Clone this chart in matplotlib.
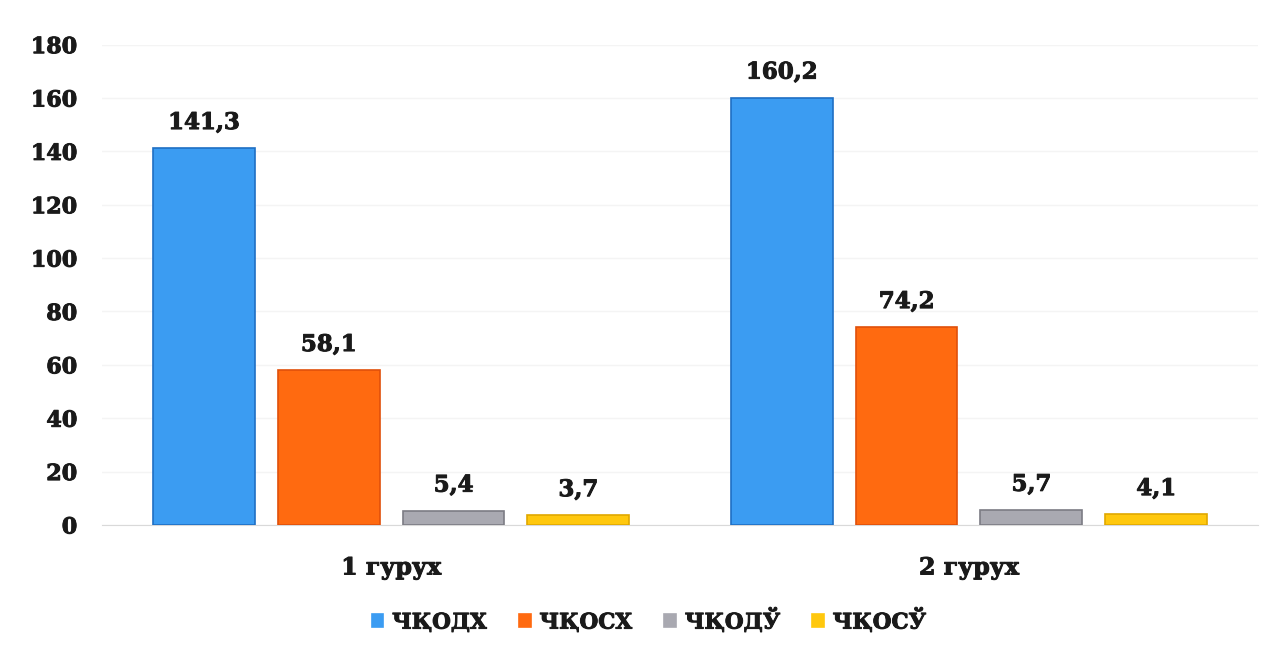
import matplotlib.pyplot as plt
import matplotlib.patheffects as pe
import numpy as np

# Groups and measured series
groups = ['1 гурух', '2 гурух']
series = ['ЧҚОДХ', 'ЧҚОСХ', 'ЧҚОДЎ', 'ЧҚОСЎ']
values = {
    'ЧҚОДХ': [141.3, 160.2],
    'ЧҚОСХ': [58.1, 74.2],
    'ЧҚОДЎ': [5.4, 5.7],
    'ЧҚОСЎ': [3.7, 4.1],
}
face_colors = ['#3b9cf2', '#ff6a10', '#a9a9b1', '#ffc80e']
edge_colors = ['#1f6fc4', '#e0500a', '#7c7c84', '#e0a800']

plt.rcParams['font.family'] = ['DejaVu Serif']
plt.rcParams['font.weight'] = 'bold'

# slightly heavier strokes for all text
heavy = [pe.withStroke(linewidth=0.7, foreground='#1a1a1a')]

fig = plt.figure(figsize=(12.77, 6.57), dpi=100)
ax = fig.add_axes([0.080, 0.201, 0.905, 0.731])

x = np.arange(len(groups))
width = 0.176
step = 0.216
offsets = (np.arange(len(series)) - 1.5) * step

for i, name in enumerate(series):
    bars = ax.bar(x + offsets[i], values[name], width, color=face_colors[i],
                  edgecolor=edge_colors[i], linewidth=1.2, label=name, zorder=3)
    for rect, v in zip(bars, values[name]):
        ax.annotate(f'{v:.1f}'.replace('.', ','),
                    (rect.get_x() + rect.get_width() / 2, v),
                    xytext=(0, 10), textcoords='offset points',
                    ha='center', va='bottom', fontsize=16.5, fontweight='bold',
                    color='#1a1a1a', path_effects=heavy)

ax.set_xlim(-0.5, 1.5)
ax.set_ylim(0, 180)
ax.set_yticks(np.arange(0, 181, 20))
ax.set_xticks(x)
ax.set_xticklabels(groups)
ax.tick_params(axis='y', length=0, pad=18, labelsize=16, labelcolor='#1a1a1a')
ax.tick_params(axis='x', length=0, pad=22, labelsize=17, labelcolor='#1a1a1a')
for lbl in ax.get_xticklabels() + ax.get_yticklabels():
    lbl.set_path_effects(heavy)

ax.grid(axis='y', color='#f4f4f4', linewidth=1, zorder=0)
for side in ['top', 'right', 'left']:
    ax.spines[side].set_visible(False)
ax.spines['bottom'].set_color('#d9d9d9')

leg = fig.legend(loc='center', bbox_to_anchor=(0.508, 0.056), ncol=4,
                 frameon=False, fontsize=15.5, handlelength=0.55, handleheight=0.55,
                 handletextpad=0.4, columnspacing=1.5)
for h in leg.legend_handles:
    h.set_edgecolor(h.get_facecolor())
for t in leg.get_texts():
    t.set_color('#1a1a1a')
    t.set_path_effects(heavy)

fig.savefig('out.png', dpi=100, facecolor='white')
